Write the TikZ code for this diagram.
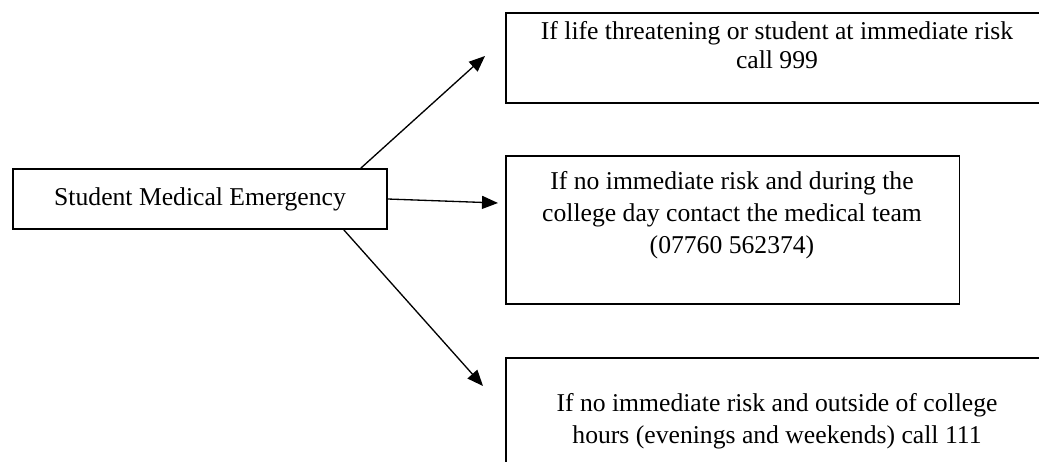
\documentclass[tikz,border=0pt]{standalone}
\usepackage{fontspec}
\setmainfont{Liberation Serif}
\usetikzlibrary{arrows.meta}
\usetikzlibrary{calc}

\begin{document}
\begin{tikzpicture}[x=0.02cm, y=-0.02cm, >={Triangle[length=0.32cm,width=0.26cm]}, font=\fontsize{14.6}{18.1}\selectfont,
	box/.style={draw, line width=0.9pt, inner sep=0pt},
	boxtext/.style={align=center, anchor=north, inner sep=0pt},
	link/.style={->, line width=0.75pt}]

	\useasboundingbox (0,0) rectangle (1039,461);
	\clip (0,0) rectangle (1039,461);

	% boxes
	\node[box, minimum width=7.48cm, minimum height=1.2cm] (emergency) at (200,199) {Student Medical Emergency};
	\node[box, anchor=north west, minimum width=11.2cm, minimum height=1.8cm] (risk) at (505,12) {};
	\node[box, anchor=north west, minimum width=9.08cm, minimum height=2.96cm] (team) at (505,155) {};
	\node[box, anchor=north west, minimum width=11.2cm, minimum height=2.4cm] (hours) at (505,357) {};

	% texts
	\node[boxtext, font=\fontsize{14.6}{16.6}\selectfont] (risktext) at (777,21) {If life threatening or student at immediate risk\\call 999};
	\node[boxtext] (teamtext) at (732,171) {If no immediate risk and during the\\college day contact the medical team\\(07760 562374)};
	\node[boxtext] (hourstext) at (777,393) {If no immediate risk and outside of college\\hours (evenings and weekends) call 111};

	% arrows
	\draw[link] ($(emergency.north east)+(-27,0)$) -- ($(risk.north west)+(-20,44)$);
	\draw[link] (emergency.east) -- ($(team.north west)+(-7,48)$);
	\draw[link] ($(emergency.south east)+(-44,0)$) -- ($(hours.north west)+(-22,29)$);

\end{tikzpicture}
\end{document}
